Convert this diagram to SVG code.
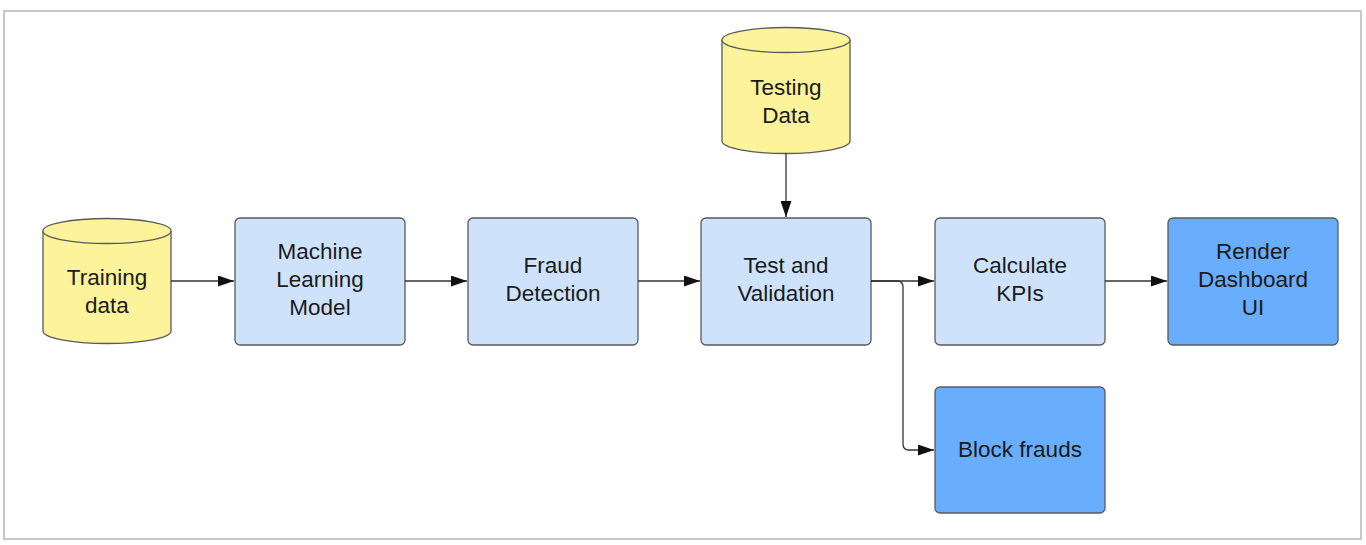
<svg xmlns="http://www.w3.org/2000/svg" width="1366" height="545" viewBox="0 0 1366 545">
<defs>
<style>
.box{stroke:#5a5a5a;stroke-width:1.3}
.light{fill:#cfe2fc}
.dark{fill:#69adfd}
.db{fill:#fdf39a;stroke:#5a5a5a;stroke-width:1.3}
.lbl{font-family:"Liberation Sans",Arial,sans-serif;font-size:22.5px;fill:#1a1a1a;text-anchor:middle}
.edge{fill:none;stroke:#333;stroke-width:1.3}
</style>
<marker id="ah" markerWidth="16" markerHeight="11" refX="16" refY="5.5" orient="auto" markerUnits="userSpaceOnUse">
<path d="M0,0 L16,5.5 L0,11 Z" fill="#111"/>
</marker>
</defs>
<rect x="0" y="0" width="1366" height="545" fill="#fff"/>
<rect x="4" y="11" width="1357" height="528" fill="#fff" stroke="#c8c8c8" stroke-width="2"/>

<g id="training-data">
<path class="db" d="M43,231 L43,331 A64,12.5 0 0 0 171,331 L171,231 A64,12.5 0 0 0 43,231 Z"/>
<path class="db" d="M43,231 A64,12.5 0 0 0 171,231" fill="none"/>
<text class="lbl" x="107" y="285">Training</text>
<text class="lbl" x="107" y="313">data</text>
</g>

<g id="testing-data">
<path class="db" d="M722,40 L722,141 A64,12.5 0 0 0 850,141 L850,40 A64,12.5 0 0 0 722,40 Z"/>
<path class="db" d="M722,40 A64,12.5 0 0 0 850,40" fill="none"/>
<text class="lbl" x="786" y="95">Testing</text>
<text class="lbl" x="786" y="123">Data</text>
</g>

<g id="ml-model">
<rect class="box light" x="235" y="218" width="170" height="127" rx="5"/>
<text class="lbl" x="320" y="259">Machine</text>
<text class="lbl" x="320" y="287">Learning</text>
<text class="lbl" x="320" y="315">Model</text>
</g>

<g id="fraud-detection">
<rect class="box light" x="468" y="218" width="170" height="127" rx="5"/>
<text class="lbl" x="553" y="273">Fraud</text>
<text class="lbl" x="553" y="301">Detection</text>
</g>

<g id="test-validation">
<rect class="box light" x="701" y="218" width="170" height="127" rx="5"/>
<text class="lbl" x="786" y="273">Test and</text>
<text class="lbl" x="786" y="301">Validation</text>
</g>

<g id="calculate-kpis">
<rect class="box light" x="935" y="218" width="170" height="127" rx="5"/>
<text class="lbl" x="1020" y="273">Calculate</text>
<text class="lbl" x="1020" y="301">KPIs</text>
</g>

<g id="render-dashboard">
<rect class="box dark" x="1168" y="218" width="170" height="127" rx="5"/>
<text class="lbl" x="1253" y="259">Render</text>
<text class="lbl" x="1253" y="287">Dashboard</text>
<text class="lbl" x="1253" y="315">UI</text>
</g>

<g id="block-frauds">
<rect class="box dark" x="935" y="387" width="170" height="126" rx="5"/>
<text class="lbl" x="1020" y="457">Block frauds</text>
</g>

<g id="connectors">
<path class="edge" d="M171,281 L234,281" marker-end="url(#ah)"/>
<path class="edge" d="M405,281 L467,281" marker-end="url(#ah)"/>
<path class="edge" d="M638,281 L700,281" marker-end="url(#ah)"/>
<path class="edge" d="M786,153 L786,217" marker-end="url(#ah)"/>
<path class="edge" d="M871,281 L934,281" marker-end="url(#ah)"/>
<path class="edge" d="M871,281 L897,281 Q903,281 903,287 L903,444 Q903,450 909,450 L934,450" marker-end="url(#ah)"/>
<path class="edge" d="M1105,281 L1167,281" marker-end="url(#ah)"/>
</g>
</svg>
